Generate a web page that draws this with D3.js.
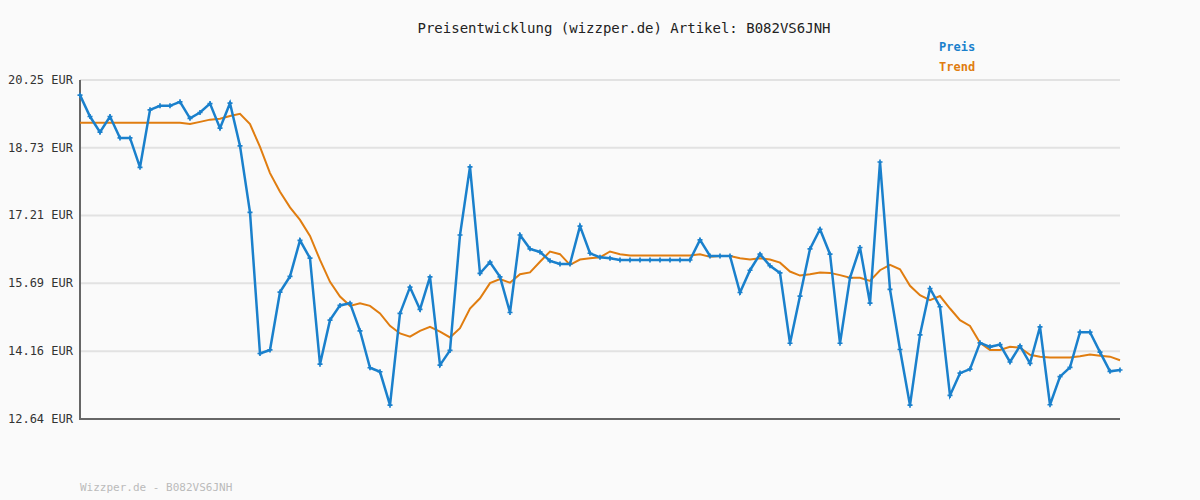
<!DOCTYPE html>
<html><head><meta charset="utf-8">
<script src="https://cdn.jsdelivr.net/npm/d3@7"></script>
<style>body{margin:0;background:#fafafa}</style></head>
<body><svg id="c" width="1200" height="500"></svg>
<script>
const title = "Preisentwicklung (wizzper.de) Artikel: B082VS6JNH";
const footer = "Wizzper.de - B082VS6JNH";
const yTicks = [12.64, 14.16, 15.69, 17.21, 18.73, 20.25];
const preis = [19.91,19.43,19.08,19.43,18.95,18.95,18.29,19.58,19.67,19.67,19.76,19.39,19.52,19.72,19.17,19.73,18.77,17.28,14.11,14.19,15.49,15.84,16.65,16.25,13.87,14.86,15.19,15.24,14.62,13.79,13.70,12.95,15.01,15.60,15.10,15.83,13.85,14.18,16.77,18.30,15.91,16.16,15.83,15.03,16.77,16.46,16.39,16.19,16.12,16.12,16.97,16.36,16.27,16.25,16.21,16.21,16.21,16.21,16.21,16.21,16.21,16.21,16.66,16.30,16.30,16.30,15.48,15.98,16.34,16.08,15.92,14.34,15.40,16.46,16.90,16.34,14.34,15.81,16.49,15.24,18.41,15.55,14.20,12.95,14.53,15.57,15.16,13.17,13.67,13.76,14.35,14.26,14.31,13.92,14.28,13.89,14.71,12.96,13.59,13.80,14.59,14.59,14.14,13.71,13.74];
const trend = [19.29,19.29,19.29,19.29,19.29,19.29,19.29,19.29,19.29,19.29,19.29,19.26,19.31,19.36,19.38,19.44,19.49,19.26,18.75,18.16,17.74,17.39,17.11,16.75,16.21,15.72,15.39,15.18,15.24,15.18,15.01,14.73,14.56,14.49,14.62,14.71,14.60,14.47,14.68,15.12,15.35,15.69,15.78,15.70,15.89,15.93,16.17,16.40,16.34,16.10,16.22,16.25,16.27,16.40,16.34,16.31,16.31,16.31,16.31,16.31,16.31,16.31,16.34,16.28,16.30,16.30,16.25,16.22,16.25,16.22,16.15,15.95,15.86,15.89,15.93,15.92,15.87,15.81,15.81,15.74,15.98,16.10,16.00,15.63,15.42,15.31,15.40,15.12,14.86,14.73,14.35,14.19,14.19,14.26,14.24,14.08,14.04,14.02,14.02,14.02,14.05,14.09,14.06,14.04,13.96];

const svg = d3.select("#c");
const font = "DejaVu Sans Mono, monospace";
const x = d3.scaleLinear().domain([0, preis.length-1]).range([80,1120]);
const y = d3.scaleLinear().domain([12.64,20.25]).range([419,80]);

svg.append("rect").attr("width",1200).attr("height",500).attr("fill","#fafafa");
svg.append("g").selectAll("line").data(yTicks.slice(1)).join("line")
  .attr("x1",80).attr("x2",1120).attr("y1",d=>y(d)).attr("y2",d=>y(d))
  .attr("stroke","#e2e2e2").attr("stroke-width",2);
svg.append("line").attr("x1",80).attr("x2",80).attr("y1",80).attr("y2",420).attr("stroke","#666").attr("stroke-width",2);
svg.append("line").attr("x1",79).attr("x2",1120).attr("y1",419).attr("y2",419).attr("stroke","#666").attr("stroke-width",2);
svg.append("g").selectAll("text").data(yTicks).join("text")
  .attr("x",73).attr("y",d=>y(d)+4).attr("text-anchor","end")
  .attr("font-family",font).attr("font-size",12).attr("fill","#333")
  .text(d=>d.toFixed(2)+" EUR");

const line = d3.line().x((d,i)=>x(i)).y(d=>y(d));
svg.append("path").datum(trend).attr("d",line).attr("fill","none").attr("stroke","#e07d10").attr("stroke-width",2);
svg.append("path").datum(preis).attr("d",line).attr("fill","none").attr("stroke","#1a80cc").attr("stroke-width",2.5);
svg.append("g").selectAll("path").data(preis).join("path")
  .attr("transform",(d,i)=>`translate(${x(i)},${y(d)})`)
  .attr("d",d3.symbol(d3.symbolCross,14)).attr("fill","#1a80cc");

svg.append("text").attr("x",624).attr("y",33).attr("text-anchor","middle")
  .attr("font-family",font).attr("font-size",14).attr("fill","#222").text(title);
svg.append("text").attr("x",939).attr("y",51).attr("font-family",font).attr("font-size",12)
  .attr("font-weight","bold").attr("fill","#1a80cc").text("Preis");
svg.append("text").attr("x",939).attr("y",71).attr("font-family",font).attr("font-size",12)
  .attr("font-weight","bold").attr("fill","#e07d10").text("Trend");
svg.append("text").attr("x",80).attr("y",491).attr("font-family",font).attr("font-size",11)
  .attr("fill","#bbb").text(footer);
</script></body></html>
